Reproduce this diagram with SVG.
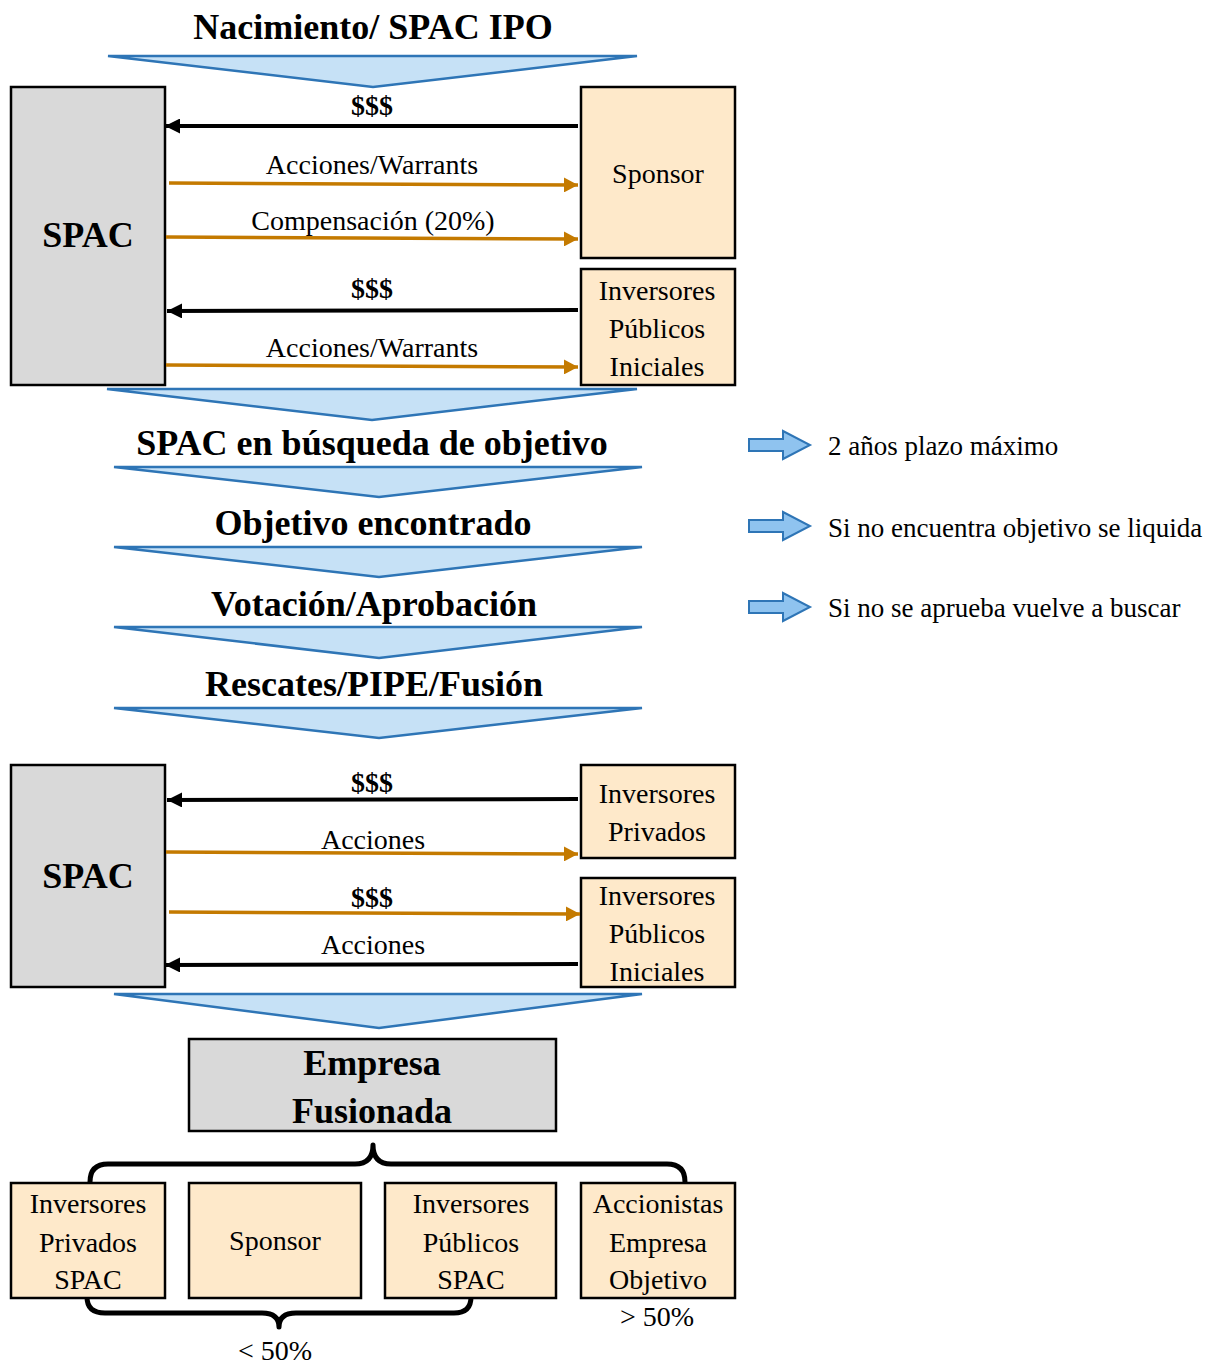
<svg xmlns="http://www.w3.org/2000/svg" width="1211" height="1368" viewBox="0 0 1211 1368">
<style>
.t{font-family:"Liberation Serif","Times New Roman",serif;fill:#000;text-anchor:middle}
.r{font-size:28px}
.rs{font-size:27px;text-anchor:start}
.b{font-size:36px;font-weight:bold}
.d{font-size:28px;font-weight:bold}
.chev{fill:#c6e1f6;stroke:#2e75b6;stroke-width:2.5;stroke-linejoin:miter}
.gray{fill:#d9d9d9;stroke:#000;stroke-width:2.5}
.peach{fill:#fee9ca;stroke:#000;stroke-width:2.5}
.blk{stroke:#000;stroke-width:4;fill:none}
.org{stroke:#c47a00;stroke-width:3.5;fill:none}
.brace{stroke:#000;stroke-width:5;fill:none;stroke-linejoin:round}
.barrow{fill:#8fc3ef;stroke:#2e75b6;stroke-width:2}
</style>
<defs>
<marker id="mb" markerUnits="userSpaceOnUse" markerWidth="15" markerHeight="15" refX="15" refY="7.5" orient="auto">
<path d="M0,0 L15,7.5 L0,15 z" fill="#000"/>
</marker>
<marker id="mo" markerUnits="userSpaceOnUse" markerWidth="14" markerHeight="15" refX="14" refY="7.5" orient="auto">
<path d="M0,0 L14,7.5 L0,15 z" fill="#c47a00"/>
</marker>
</defs>

<g id="stages">
<text class="t b" x="373" y="39">Nacimiento/ SPAC IPO</text>
<polygon class="chev" points="108,56 637,56 373,87"/>
<polygon class="chev" points="107,389 637,389 372,420"/>
<text class="t b" x="372" y="455">SPAC en búsqueda de objetivo</text>
<polygon class="chev" points="114,467 642,467 379,497"/>
<text class="t b" x="373" y="535">Objetivo encontrado</text>
<polygon class="chev" points="114,547 642,547 379,577"/>
<text class="t b" x="374" y="616">Votación/Aprobación</text>
<polygon class="chev" points="114,627 642,627 379,658"/>
<text class="t b" x="374" y="696">Rescates/PIPE/Fusión</text>
<polygon class="chev" points="114,708 642,708 379,738"/>
<polygon class="chev" points="114,994 642,994 379,1028"/>
</g>

<g id="notes">
<polygon class="barrow" points="749,439 783,439 783,431 810,445 783,459 783,451 749,451"/>
<text class="t rs" x="828" y="455">2 años plazo máximo</text>
<polygon class="barrow" points="749,520 783,520 783,512 810,526 783,540 783,532 749,532"/>
<text class="t rs" x="828" y="537">Si no encuentra objetivo se liquida</text>
<polygon class="barrow" points="749,601 783,601 783,593 810,607 783,621 783,613 749,613"/>
<text class="t rs" x="828" y="617">Si no se aprueba vuelve a buscar</text>
</g>

<g id="spac1">
<rect class="gray" x="11" y="87" width="154" height="298"/>
<text class="t b" x="88" y="247">SPAC</text>
</g>
<g id="sponsor1">
<rect class="peach" x="581" y="87" width="154" height="171"/>
<text class="t r" x="658" y="183">Sponsor</text>
</g>
<g id="ipi1">
<rect class="peach" x="581" y="269" width="154" height="116"/>
<text class="t r" x="657" y="300">Inversores</text>
<text class="t r" x="657" y="338">Públicos</text>
<text class="t r" x="657" y="376">Iniciales</text>
</g>

<g id="spac2">
<rect class="gray" x="11" y="765" width="154" height="222"/>
<text class="t b" x="88" y="888">SPAC</text>
</g>
<g id="ipriv2">
<rect class="peach" x="581" y="765" width="154" height="93"/>
<text class="t r" x="657" y="803">Inversores</text>
<text class="t r" x="657" y="841">Privados</text>
</g>
<g id="ipi2">
<rect class="peach" x="581" y="878" width="154" height="109"/>
<text class="t r" x="657" y="905">Inversores</text>
<text class="t r" x="657" y="943">Públicos</text>
<text class="t r" x="657" y="981">Iniciales</text>
</g>

<g id="fusionada">
<rect class="gray" x="189" y="1039" width="367" height="92"/>
<text class="t b" x="372" y="1075">Empresa</text>
<text class="t b" x="372" y="1123">Fusionada</text>
</g>

<g id="ipriv3">
<rect class="peach" x="11" y="1183" width="154" height="115"/>
<text class="t r" x="88" y="1213">Inversores</text>
<text class="t r" x="88" y="1252">Privados</text>
<text class="t r" x="88" y="1289">SPAC</text>
</g>
<g id="sponsor3">
<rect class="peach" x="189" y="1183" width="172" height="115"/>
<text class="t r" x="275" y="1250">Sponsor</text>
</g>
<g id="ipub3">
<rect class="peach" x="385" y="1183" width="171" height="115"/>
<text class="t r" x="471" y="1213">Inversores</text>
<text class="t r" x="471" y="1252">Públicos</text>
<text class="t r" x="471" y="1289">SPAC</text>
</g>
<g id="accionistas">
<rect class="peach" x="581" y="1183" width="154" height="115"/>
<text class="t r" x="658" y="1213">Accionistas</text>
<text class="t r" x="658" y="1252">Empresa</text>
<text class="t r" x="658" y="1289">Objetivo</text>
</g>

<g id="connectors">
<line class="blk" x1="578" y1="126" x2="165" y2="126" marker-end="url(#mb)"/>
<text class="t d" x="372" y="115">$$$</text>
<line class="org" x1="169" y1="183" x2="578" y2="185" marker-end="url(#mo)"/>
<text class="t r" x="372" y="174">Acciones/Warrants</text>
<line class="org" x1="166" y1="237" x2="578" y2="239" marker-end="url(#mo)"/>
<text class="t r" x="373" y="230">Compensación (20%)</text>
<line class="blk" x1="578" y1="310" x2="167" y2="311" marker-end="url(#mb)"/>
<text class="t d" x="372" y="298">$$$</text>
<line class="org" x1="166" y1="365" x2="578" y2="367" marker-end="url(#mo)"/>
<text class="t r" x="372" y="357">Acciones/Warrants</text>

<line class="blk" x1="578" y1="799" x2="167" y2="800" marker-end="url(#mb)"/>
<text class="t d" x="372" y="792">$$$</text>
<line class="org" x1="166" y1="852" x2="578" y2="854" marker-end="url(#mo)"/>
<text class="t r" x="373" y="849">Acciones</text>
<line class="org" x1="169" y1="912" x2="580" y2="914" marker-end="url(#mo)"/>
<text class="t d" x="372" y="907">$$$</text>
<line class="blk" x1="578" y1="964" x2="165" y2="965" marker-end="url(#mb)"/>
<text class="t r" x="373" y="954">Acciones</text>

<path class="brace" d="M90,1182 Q90,1164 108,1164 L355,1164 Q373,1164 373,1145 Q373,1164 391,1164 L667,1164 Q685,1164 685,1182"/>
<path class="brace" d="M87,1297 Q87,1313 105,1313 L262,1313 Q279,1313 279,1327 Q279,1313 296,1313 L454,1313 Q471,1313 471,1297"/>
</g>

<g id="shares">
<text class="t r" x="657" y="1326">&gt; 50%</text>
<text class="t r" x="275" y="1360">&lt; 50%</text>
</g>
</svg>
